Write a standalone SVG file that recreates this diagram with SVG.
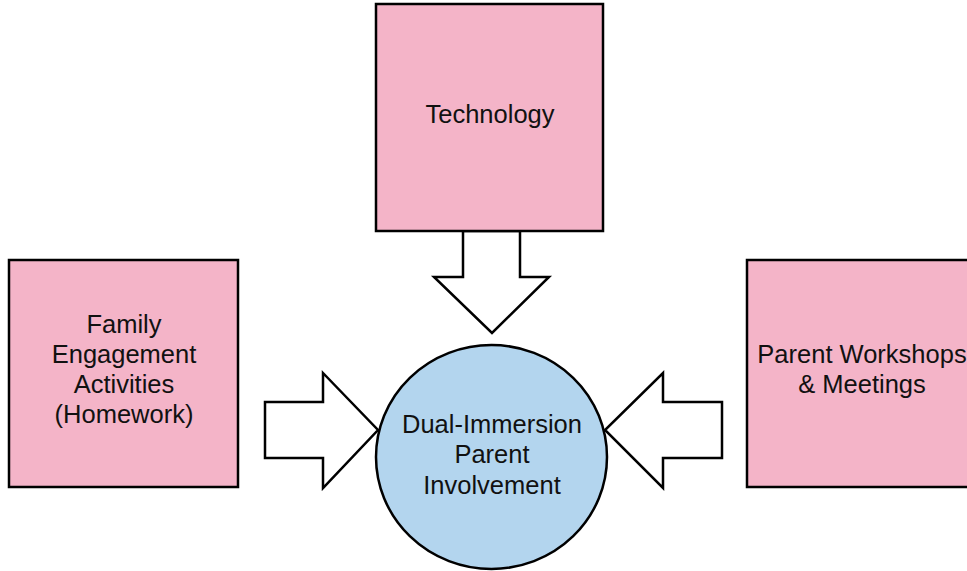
<svg xmlns="http://www.w3.org/2000/svg" width="967" height="571" viewBox="0 0 967 571">
  <style>
    .box { fill: #f4b4c8; stroke: #000; stroke-width: 2.5; }
    .hub { fill: #b3d5ee; stroke: #000; stroke-width: 2.5; }
    .arrow { fill: #fff; stroke: #000; stroke-width: 2.5; stroke-linejoin: miter; }
    text { font-family: "Liberation Sans", Arial, sans-serif; font-size: 25.5px; fill: #111; text-anchor: middle; }
  </style>
  <rect width="967" height="571" fill="#fff"/>

  <g id="connectors">
    <!-- Technology -> hub -->
    <polygon class="arrow" points="463,231 520,231 520,277 549,277 492,333 434,277 463,277"/>
    <!-- Family Engagement -> hub -->
    <polygon class="arrow" points="265,402 323,402 323,373 378,430 323,488 323,458 265,458"/>
    <!-- Parent Workshops -> hub -->
    <polygon class="arrow" points="722,402 663,402 663,373 605,430 663,488 663,458 722,458"/>
  </g>

  <g id="technology">
    <rect class="box" x="376" y="4" width="227" height="227"/>
    <text x="490" y="123">Technology</text>
  </g>

  <g id="family-engagement">
    <rect class="box" x="9" y="260" width="229" height="227"/>
    <text x="124" y="333">Family</text>
    <text x="124" y="363">Engagement</text>
    <text x="124" y="393">Activities</text>
    <text x="124" y="423">(Homework)</text>
  </g>

  <g id="parent-workshops">
    <rect class="box" x="747" y="260" width="229" height="227"/>
    <text x="862" y="363">Parent Workshops</text>
    <text x="862" y="393">&amp; Meetings</text>
  </g>

  <g id="parent-involvement">
    <ellipse class="hub" cx="491.5" cy="457" rx="115.5" ry="112"/>
    <text x="492" y="433">Dual-Immersion</text>
    <text x="492" y="463">Parent</text>
    <text x="492" y="494">Involvement</text>
  </g>
</svg>
